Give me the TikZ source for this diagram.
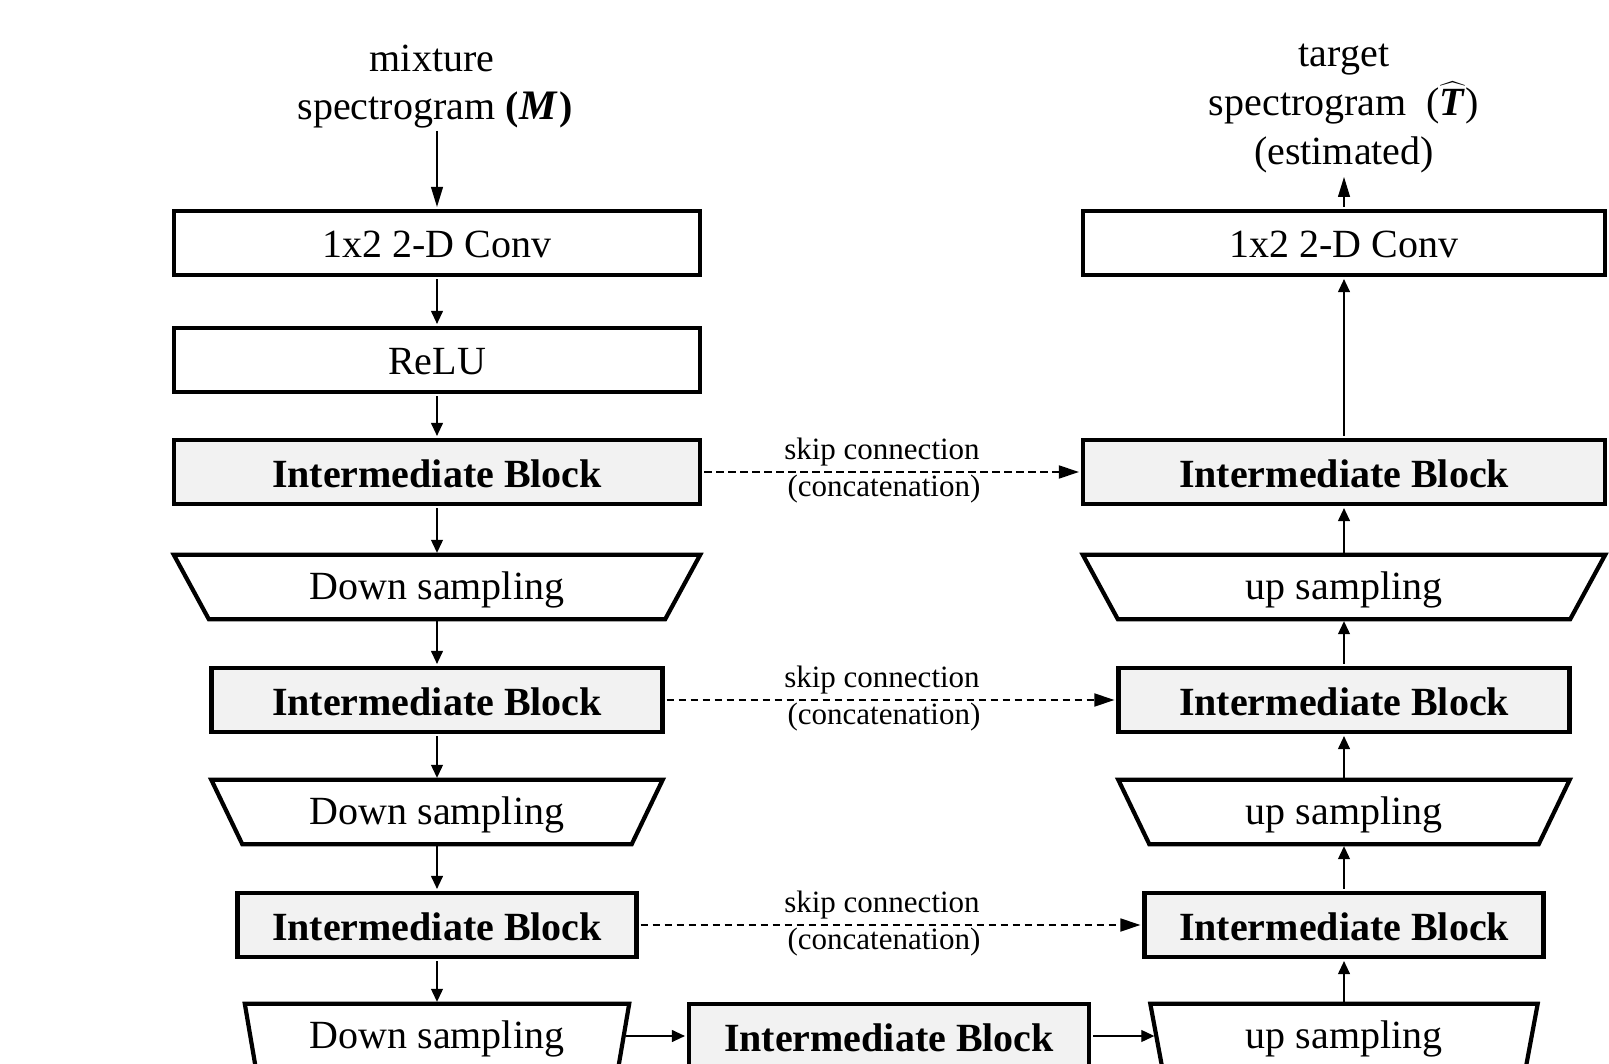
\documentclass[tikz,border=0pt]{standalone}
\usepackage{amsmath}
\usepackage{fontspec}
\setmainfont{Liberation Serif}
\usetikzlibrary{arrows.meta}
\definecolor{ibfill}{RGB}{242,242,242}
\newcommand{\trapz}[2]{\draw[trapline] (#1.north west) -- (#1.north east) -- ([xshift=-#2pt]#1.south east) -- ([xshift=#2pt]#1.south west) -- cycle;}
\tikzset{
 box/.style={draw, line width=4.2pt, rectangle, inner sep=0pt, minimum height=64pt, text height=30pt, text depth=0pt, font=\fontsize{40}{48}\selectfont},
 ib/.style={box, fill=ibfill, font=\fontsize{40}{48}\selectfont\bfseries},
 trap/.style={rectangle, inner sep=0pt, minimum height=64pt, text height=25pt, text depth=0pt, font=\fontsize{40}{48}\selectfont},
 trapline/.style={line width=4.2pt},
 arr/.style={line width=1.1pt, -{Triangle[length=13pt,width=12pt]}, shorten >=2pt, shorten <=2pt},
 bigarr/.style={line width=1.1pt, -{Triangle[length=20pt,width=12pt]}},
 skipline/.style={line width=1.8pt, dash pattern=on 7.5pt off 4.5pt, -{Triangle[length=20pt,width=13pt]}, shorten >=2pt, shorten <=2pt},
 lbl/.style={inner sep=0pt, anchor=base, font=\fontsize{40}{48}\selectfont},
 skiplbl/.style={inner sep=0pt, anchor=base, font=\fontsize{31}{36}\selectfont},
}
\begin{document}
\begin{tikzpicture}[x=1pt,y=-1pt]
\useasboundingbox (0,0) rectangle (1609,1064);
\clip (0,0) rectangle (1609,1064);

% labels
\node[lbl] (mix1) at (432,72) {mixture};
\node[lbl] (mix2) at (435,120) {spectrogram \textbf{(}\kern1pt{\fontsize{42}{48}\selectfont\textbf{\textit{M}}}\kern1pt\textbf{)}};
\node[lbl] (tgt1) at (1344,67) {target};
\node[lbl] (tgt2) at (1344,116) {spectrogram\ \ ($\widehat{\hbox{\textbf{\textit{T}}}}$)};
\node[lbl] (tgt3) at (1344,165) {(estimated)};
\coordinate (instart) at (437,131);
\coordinate (outtip) at (1344,177);

% left column
\node[box, minimum width=526pt] (conv1) at (437,243) {1x2 2-D Conv};
\node[box, minimum width=526pt] (relu) at (437,360) {ReLU};
\node[ib, minimum width=526pt] (ib1) at (437,472) {Intermediate Block};
\node[trap, minimum width=526pt] (d1) at (437,587) {Down sampling};
\node[ib, minimum width=451pt] (ib2) at (437,700) {Intermediate Block};
\node[trap, minimum width=451pt] (d2) at (437,812) {Down sampling};
\node[ib, minimum width=399pt] (ib3) at (437,925) {Intermediate Block};
\node[trap, minimum width=384pt] (d3) at (437,1036) {Down sampling};

% middle
\node[ib, minimum width=400pt] (mid) at (889,1036) {Intermediate Block};

% right column
\node[box, minimum width=522pt] (conv2) at (1344,243) {1x2 2-D Conv};
\node[ib, minimum width=522pt] (ib1r) at (1344,472) {Intermediate Block};
\node[trap, minimum width=522pt] (u1) at (1344,587) {up sampling};
\node[ib, minimum width=451pt] (ib2r) at (1344,700) {Intermediate Block};
\node[trap, minimum width=451pt] (u2) at (1344,812) {up sampling};
\node[ib, minimum width=399pt] (ib3r) at (1344,925) {Intermediate Block};
\node[trap, minimum width=387pt] (u3) at (1344,1036) {up sampling};

\trapz{d1}{35}
\trapz{d2}{31}
\trapz{d3}{11}
\trapz{u1}{35}
\trapz{u2}{31}
\trapz{u3}{12}

% left arrows
\draw[bigarr, shorten >=2pt] (instart) -- (conv1.north);
\draw[arr] (conv1.south) -- (relu.north);
\draw[arr] (relu.south) -- (ib1.north);
\draw[arr] (ib1.south) -- (d1.north);
\draw[arr] (d1.south) -- (ib2.north);
\draw[arr] (ib2.south) -- (d2.north);
\draw[arr] (d2.south) -- (ib3.north);
\draw[arr] (ib3.south) -- (d3.north);

% bottom
\coordinate (d3e) at ([xshift=-5pt]d3.east);
\coordinate (u3w) at ([xshift=6pt]u3.west);
\draw[arr] (d3e) -- (mid.west);
\draw[arr] (mid.east) -- (u3w);

% right arrows
\draw[arr] (u3.north) -- (ib3r.south);
\draw[arr] (ib3r.north) -- (u2.south);
\draw[arr] (u2.north) -- (ib2r.south);
\draw[arr] (ib2r.north) -- (u1.south);
\draw[arr] (u1.north) -- (ib1r.south);
\draw[arr] (ib1r.north) -- (conv2.south);
\draw[bigarr, shorten <=2pt] (conv2.north) -- (outtip);

% skip connections
\draw[skipline] (ib1.east) -- (ib1r.west);
\draw[skipline] (ib2.east) -- (ib2r.west);
\draw[skipline] (ib3.east) -- (ib3r.west);
\node[skiplbl] (s1a) at (882,459) {skip connection};
\node[skiplbl] (s1b) at (884,496) {(concatenation)};
\node[skiplbl] (s2a) at (882,687) {skip connection};
\node[skiplbl] (s2b) at (884,724) {(concatenation)};
\node[skiplbl] (s3a) at (882,912) {skip connection};
\node[skiplbl] (s3b) at (884,949) {(concatenation)};
\end{tikzpicture}
\end{document}
